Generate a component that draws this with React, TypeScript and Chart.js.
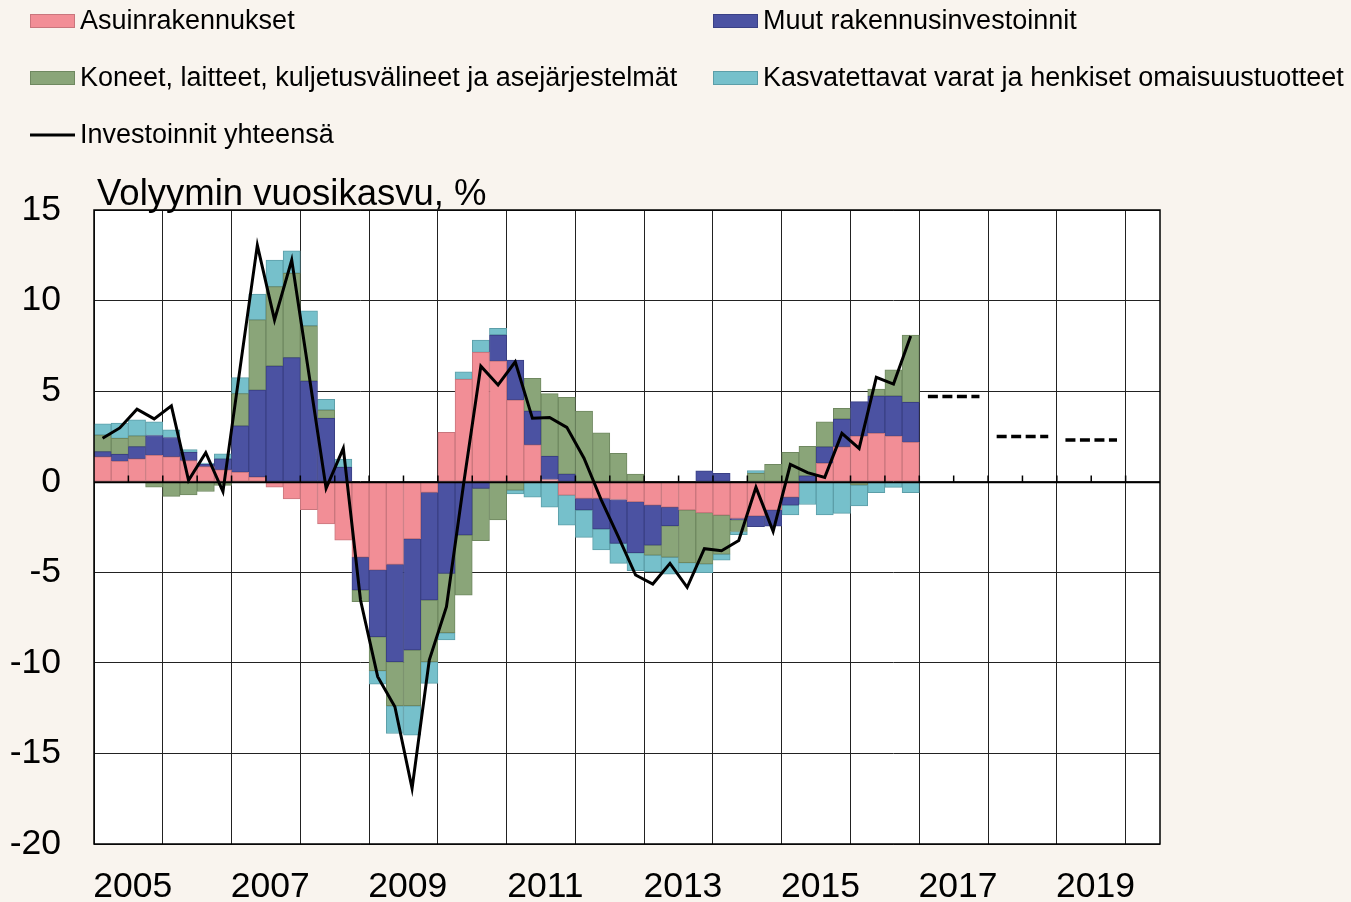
import React, { useEffect, useRef } from 'react';
import { Chart, registerables } from 'chart.js';

Chart.register(...registerables);

// ---- Data (quarterly, 2005Q1 .. 2016Q4), volume growth y/y, %-points ----
const firstYear = 2005;
const lastYear = 2020;
const lastQuarterOfAxis = 2; // axis runs to 2020Q2

const seriesNames = [
  'Asuinrakennukset',
  'Muut rakennusinvestoinnit',
  'Koneet, laitteet, kuljetusvälineet ja asejärjestelmät',
  'Kasvatettavat varat ja henkiset omaisuustuotteet',
];
const totalName = 'Investoinnit yhteensä';

const asuinrakennukset = [
  1.38, 1.12, 1.27, 1.45, 1.38, 1.16, 0.83, 0.65, 0.52, 0.26, -0.3, -0.95,
  -1.55, -2.33, -3.23, -4.17, -4.87, -4.56, -3.15, -0.59, 2.72, 5.65, 7.14, 6.66,
  4.51, 2.03, 0.12, -0.74, -0.92, -0.92, -0.98, -1.1, -1.29, -1.41, -1.56, -1.71,
  -1.85, -2.02, -1.89, -1.56, -0.86, 0, 1.02, 1.93, 2.52, 2.67, 2.52, 2.17,
];
const muutRakennus = [
  0.28, 0.39, 0.67, 1.1, 1.06, 0.46, 0.15, 0.61, 2.56, 4.8, 6.39, 6.85,
  5.56, 3.5, 0.8, -1.81, -3.69, -5.38, -6.14, -5.94, -5.06, -2.94, -0.37, 1.44,
  2.21, 1.87, 1.28, 0.42, -0.64, -1.69, -2.42, -2.82, -2.21, -1.02, 0, 0.6,
  0.46, -0.08, -0.59, -0.89, -0.43, 0.32, 0.91, 1.53, 1.9, 2.06, 2.21, 2.21,
];
const koneet = [
  0.92, 0.88, 0.59, -0.3, -0.81, -0.73, -0.54, -0.2, 1.78, 3.87, 4.38, 4.66,
  3.05, 0.46, 0, -0.64, -1.87, -2.43, -3.08, -3.41, -3.28, -3.32, -2.88, -2.11,
  -0.46, 1.81, 3.46, 4.24, 3.9, 2.7, 1.57, 0.42, -0.55, -1.74, -2.91, -2.83,
  -2.15, -0.65, 0.46, 0.96, 1.62, 1.64, 1.37, 0.59, -0.18, 0.39, 1.44, 3.72,
];
const kasvatettavat = [
  0.61, 0.85, 0.89, 0.76, 0.42, 0.15, 0.05, 0.28, 0.89, 1.43, 1.47, 1.23,
  0.83, 0.59, 0.45, 0, -0.75, -1.53, -1.62, -1.19, -0.4, 0.41, 0.68, 0.37,
  -0.22, -0.86, -1.41, -1.66, -1.51, -1.16, -1.11, -0.99, -0.92, -0.93, -0.53, -0.48,
  -0.33, -0.18, 0.15, 0, -0.55, -1.26, -1.84, -1.75, -1.16, -0.61, -0.31, -0.61,
];
const yhteensa = [
  2.4, 2.97, 4.0, 3.47, 4.19, 0.08, 1.6, -0.55, 6.3, 13.06, 8.93, 12.24,
  5.95, -0.37, 1.84, -6.53, -10.76, -12.42, -16.93, -9.84, -6.9, -0.1, 6.38, 5.34,
  6.62, 3.5, 3.55, 3.0, 1.3, -1.0, -3.04, -5.15, -5.65, -4.51, -5.83, -3.7,
  -3.81, -3.25, -0.31, -2.74, 0.95, 0.5, 0.24, 2.67, 1.84, 5.76, 5.39, 8.04,
];

// Annual forecasts (dashed)
const forecastYears = [2017, 2018, 2019];
const forecastValues = [4.7, 2.5, 2.3];

const yTicks = [15, 10, 5, 0, -5, -10, -15, -20];
const yMin = -20;
const yMax = 15;
const yStep = 5;

const seriesColors = ['#F28E96', '#4B52A2', '#8AA579', '#76C0CB'];
const seriesBorders = ['#C9767D', '#3A4085', '#6F8860', '#5C9EA8'];

// ---- Build categories ----
const quarterLabels: string[] = [];
for (let y = firstYear; y <= lastYear; y++) {
  for (let q = 1; q <= 4; q++) {
    if (y === lastYear && q > lastQuarterOfAxis) break;
    quarterLabels.push(`${y}Q${q}`);
  }
}
const N = quarterLabels.length;
const pad = (arr: number[]) => quarterLabels.map((_, i) => (i < arr.length ? arr[i] : null));

const FONT = '"Liberation Sans", Arial, Helvetica, sans-serif';

const backgroundPlugin = {
  id: 'bgPlugin',
  beforeDraw(chart: any) {
    const { ctx, chartArea: a, width, height } = chart;
    ctx.save();
    ctx.fillStyle = '#F9F4EE';
    ctx.fillRect(0, 0, width, height);
    ctx.fillStyle = '#FFFFFF';
    ctx.fillRect(a.left, a.top, a.right - a.left, a.bottom - a.top);
    ctx.restore();
  },
};

const overlayPlugin = {
  id: 'overlayPlugin',
  afterDatasetsDraw(chart: any) {
    const { ctx, chartArea: a, scales } = chart;
    const xs = scales.x;
    const ys = scales.y;
    const y0 = Math.round(ys.getPixelForValue(0)) + 0.5;
    ctx.save();
    ctx.strokeStyle = '#000';
    ctx.lineWidth = 1.5;
    ctx.beginPath();
    ctx.moveTo(a.left, y0);
    ctx.lineTo(a.right, y0);
    ctx.stroke();
    ctx.lineWidth = 1.5;
    for (let k = 1; 2 * k < N; k++) {
      const x = (xs.getPixelForValue(2 * k - 1) + xs.getPixelForValue(2 * k)) / 2;
      ctx.beginPath();
      ctx.moveTo(x, y0);
      ctx.lineTo(x, y0 - 7);
      ctx.stroke();
    }
    ctx.restore();
  },
  afterDraw(chart: any) {
    const { ctx, chartArea: a } = chart;
    ctx.save();
    // plot frame
    ctx.strokeStyle = '#000';
    ctx.lineWidth = 1.5;
    ctx.strokeRect(a.left, a.top, a.right - a.left, a.bottom - a.top);

    // axis title
    ctx.fillStyle = '#000';
    ctx.font = `36.5px ${FONT}`;
    ctx.textBaseline = 'alphabetic';
    ctx.textAlign = 'left';
    ctx.fillText('Volyymin vuosikasvu, %', 97, 205);

    // legend
    const cols = [30, 713];
    const rows = [21, 78, 135];
    const layout = [
      { ds: 4, col: 0, row: 0 },
      { ds: 5, col: 1, row: 0 },
      { ds: 6, col: 0, row: 1 },
      { ds: 7, col: 1, row: 1 },
      { ds: 0, col: 0, row: 2 },
    ];
    ctx.font = `27px ${FONT}`;
    ctx.textBaseline = 'middle';
    layout.forEach((it) => {
      const d = chart.data.datasets[it.ds];
      const x = cols[it.col];
      const y = rows[it.row];
      if (d.type === 'line') {
        ctx.strokeStyle = d.borderColor;
        ctx.lineWidth = 3;
        ctx.beginPath();
        ctx.moveTo(x, y);
        ctx.lineTo(x + 45, y);
        ctx.stroke();
      } else {
        ctx.fillStyle = d.backgroundColor;
        ctx.fillRect(x, y - 7, 45, 14);
        ctx.strokeStyle = d.borderColor;
        ctx.lineWidth = 1;
        ctx.strokeRect(x + 0.5, y - 6.5, 44, 13);
      }
      ctx.fillStyle = '#000';
      ctx.fillText(d.label, x + 50, y + 1);
    });
    ctx.restore();
  },
};

export default function App() {
  const canvasRef = useRef<HTMLCanvasElement | null>(null);

  useEffect(() => {
    document.body.style.margin = '0';
    document.body.style.background = '#F9F4EE';
    const canvas = canvasRef.current;
    if (!canvas) return;

    const barSets = [asuinrakennukset, muutRakennus, koneet, kasvatettavat].map((arr, i) => ({
      type: 'bar' as const,
      label: seriesNames[i],
      data: pad(arr),
      backgroundColor: seriesColors[i],
      borderColor: seriesBorders[i],
      borderWidth: 1,
      borderSkipped: false,
      barPercentage: 1,
      categoryPercentage: 1,
      stack: 'bars',
      order: 1,
    }));

    const forecastSets = forecastYears.map((yr, j) => ({
      type: 'line' as const,
      label: `Ennuste ${yr}`,
      data: quarterLabels.map((l) => (l.startsWith(String(yr)) ? forecastValues[j] : null)),
      borderColor: '#000',
      borderWidth: 3.5,
      borderDash: [10, 4.5],
      pointRadius: 0,
      spanGaps: false,
      stack: `f${j}`,
      order: 0,
    }));

    const chart = new Chart(canvas, {
      data: {
        labels: quarterLabels,
        datasets: [
          {
            type: 'line',
            label: totalName,
            data: pad(yhteensa),
            borderColor: '#000',
            backgroundColor: '#000',
            borderWidth: 3,
            pointRadius: 0,
            tension: 0,
            stack: 'total',
            order: 0,
          } as any,
          ...forecastSets,
          ...barSets,
        ],
      },
      options: {
        responsive: false,
        animation: false,
        devicePixelRatio: 1,
        layout: { padding: { left: 0, right: 191, top: 210, bottom: 0 } },
        plugins: {
          legend: { display: false },
          title: { display: false },
          tooltip: { enabled: false },
        },
        scales: {
          x: {
            type: 'category',
            stacked: true,
            offset: true,
            border: { display: false },
            grid: {
              offset: true,
              drawTicks: false,
              color: (c: any) => (c.index % 4 === 0 ? '#222' : 'rgba(0,0,0,0)'),
              lineWidth: 1,
            },
            ticks: {
              autoSkip: false,
              maxRotation: 0,
              minRotation: 0,
              padding: 22,
              color: '#000',
              font: { family: FONT, size: 35.5 },
              labelOffset: -4.3,
              callback: (_v: any, idx: number) =>
                idx % 8 === 2 ? quarterLabels[idx].slice(0, 4) : '',
            },
            afterFit: (s: any) => {
              s.height = 58;
            },
          },
          y: {
            type: 'linear',
            stacked: true,
            min: yMin,
            max: yMax,
            border: { display: false },
            grid: { drawTicks: false, color: '#222', lineWidth: 1 },
            ticks: {
              stepSize: yStep,
              padding: 33,
              color: '#000',
              font: { family: FONT, size: 35.5 },
              callback: (v: any) => (yTicks.includes(Number(v)) ? String(v) : ''),
            },
            afterFit: (s: any) => {
              s.width = 94;
            },
          },
        },
      } as any,
      plugins: [backgroundPlugin, overlayPlugin],
    });

    return () => chart.destroy();
  }, []);

  return (
    <div style={{ width: 1351, height: 902, background: '#F9F4EE' }}>
      <canvas ref={canvasRef} width={1351} height={902} style={{ display: 'block' }} />
    </div>
  );
}
